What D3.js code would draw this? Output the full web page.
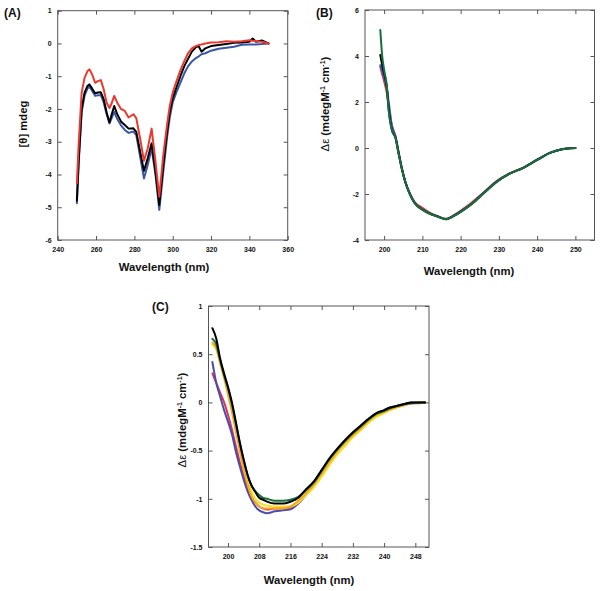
<!DOCTYPE html>
<html><head><meta charset="utf-8">
<script src="https://cdn.jsdelivr.net/npm/d3@7"></script>
<style>
body{margin:0;background:#fff;}
svg text{font-family:"Liberation Sans",Arial,sans-serif;font-weight:bold;fill:#111;}
</style></head>
<body><svg id="c" width="600" height="591"></svg>
<script>
// ---------- Panel A data ----------
const wlA = [250,251,252.5,254,255.5,256.5,258,259.5,261,262.5,
  264,265.5,267,268,269.5,271,273,275,277,279.5,
  281,283,285,287,289,291,293,295,297,298.5,
  300,302,304,306,308,310,312,313.5,315,317,
  320,324,328,332,336,340,341.7,343.5,346.5,350];
const redA = [-4.27,-3.0,-1.5,-1.05,-0.85,-0.79,-0.95,-1.2,-1.15,-1.12,
  -1.4,-1.8,-1.97,-1.85,-1.6,-1.8,-2.0,-2.06,-2.26,-2.16,
  -2.28,-2.9,-3.58,-3.2,-2.6,-3.6,-4.68,-3.46,-2.5,-1.9,
  -1.5,-1.15,-0.82,-0.55,-0.3,-0.15,-0.08,-0.05,-0.03,0.0,
  0.03,0.04,0.07,0.05,0.07,0.1,0.08,0.07,0.05,0.0];
const blackA = [-4.8,-3.5,-2.0,-1.5,-1.3,-1.25,-1.38,-1.52,-1.5,-1.49,
  -1.7,-2.1,-2.41,-2.2,-1.91,-2.15,-2.38,-2.49,-2.6,-2.59,
  -2.7,-3.3,-3.89,-3.5,-3.05,-3.9,-4.93,-3.76,-2.72,-2.08,
  -1.68,-1.33,-1.0,-0.7,-0.47,-0.25,-0.12,-0.08,-0.25,-0.15,
  -0.08,-0.05,-0.02,0.02,0.03,0.05,0.15,0.05,0.09,0.0];
const blueA = [-4.88,-3.6,-2.1,-1.6,-1.38,-1.32,-1.45,-1.6,-1.58,-1.58,
  -1.8,-2.15,-2.44,-2.3,-2.09,-2.3,-2.5,-2.64,-2.73,-2.69,
  -2.8,-3.45,-4.12,-3.7,-3.2,-4.0,-5.08,-3.97,-2.9,-2.25,
  -1.8,-1.48,-1.2,-0.92,-0.7,-0.55,-0.45,-0.4,-0.33,-0.3,
  -0.22,-0.16,-0.13,-0.1,-0.04,-0.03,-0.03,-0.03,-0.02,0.0];
const xTicksA = [240,260,280,300,320,340,360];
const yTicksA = [1,0,-1,-2,-3,-4,-5,-6];

// ---------- Panel B data ----------
const wlB = [199,199.5,200,200.7,201.2,202,203,203.7,204.6,205.5,206.8,208,210,212,214,216.2,218,220.5,223,226,229.5,232.5,236.5,240,243.5,246.5,248.5,250];
const greenB = [5.13,4.0,3.4,2.7,1.6,0.8,0.42,-0.16,-0.88,-1.46,-2.04,-2.4,-2.68,-2.86,-2.98,-3.1,-2.97,-2.72,-2.42,-1.97,-1.46,-1.15,-0.85,-0.52,-0.2,-0.05,-0.01,0];
const blackB = [4.04,3.6,3.25,2.65,1.7,0.8,0.42,-0.16,-0.88,-1.46,-2.04,-2.4,-2.68,-2.86,-2.98,-3.1,-2.97,-2.72,-2.42,-1.97,-1.46,-1.15,-0.85,-0.52,-0.2,-0.05,-0.01,0];
const redB = [3.53,3.2,2.9,2.4,1.8,1.0,0.5,-0.1,-0.85,-1.45,-2.0,-2.35,-2.6,-2.82,-2.96,-3.08,-2.94,-2.67,-2.36,-1.93,-1.43,-1.13,-0.84,-0.5,-0.2,-0.05,-0.01,0];
const blueB = [3.6,3.35,3.05,2.6,2.0,1.0,0.48,-0.12,-0.86,-1.45,-2.02,-2.38,-2.66,-2.85,-2.97,-3.09,-2.96,-2.7,-2.4,-1.95,-1.45,-1.14,-0.85,-0.51,-0.2,-0.05,-0.01,0];
const xTicksB = [200,210,220,230,240,250];
const yTicksB = [6,4,2,0,-2,-4];

// ---------- Panel C data ----------
const wlC = [196,197,198,199,200,201,202,203,204,205,206,207,208,209,210,212,214,216,218,220,222,224,226,228,230,232,234,236,238,240,241,243,245,247,249,250.5];
const blackC = [0.77,0.66,0.45,0.3,0.16,0.0,-0.2,-0.41,-0.59,-0.75,-0.86,-0.93,-0.99,-1.01,-1.03,-1.05,-1.05,-1.03,-0.99,-0.9,-0.82,-0.7,-0.58,-0.48,-0.39,-0.31,-0.24,-0.17,-0.11,-0.08,-0.06,-0.04,-0.02,0.0,0.0,0.0];
const greenC = [0.66,0.6,0.44,0.28,0.15,-0.02,-0.22,-0.42,-0.6,-0.75,-0.86,-0.92,-0.96,-0.99,-1.0,-1.02,-1.02,-1.01,-0.98,-0.91,-0.83,-0.71,-0.59,-0.49,-0.4,-0.32,-0.25,-0.18,-0.12,-0.09,-0.07,-0.04,-0.02,-0.01,0.0,0.0];
const yellowC = [0.6,0.55,0.42,0.28,0.12,-0.05,-0.26,-0.46,-0.65,-0.8,-0.92,-1.0,-1.04,-1.06,-1.07,-1.08,-1.08,-1.08,-1.04,-0.96,-0.88,-0.77,-0.65,-0.54,-0.45,-0.36,-0.29,-0.21,-0.15,-0.11,-0.09,-0.06,-0.03,-0.01,0.0,0.0];
const orangeC = [0.62,0.56,0.4,0.25,0.08,-0.1,-0.3,-0.5,-0.7,-0.85,-0.97,-1.04,-1.08,-1.1,-1.1,-1.1,-1.1,-1.08,-1.02,-0.94,-0.85,-0.74,-0.62,-0.51,-0.42,-0.34,-0.27,-0.19,-0.13,-0.1,-0.08,-0.05,-0.03,-0.01,0.0,0.0];
const redC = [0.3,0.2,0.1,0.0,-0.13,-0.28,-0.45,-0.62,-0.76,-0.88,-0.98,-1.04,-1.08,-1.1,-1.11,-1.1,-1.1,-1.09,-1.04,-0.95,-0.85,-0.73,-0.61,-0.5,-0.41,-0.33,-0.26,-0.19,-0.13,-0.1,-0.07,-0.05,-0.03,-0.01,-0.01,0.0];
const blueC = [0.42,0.2,0.06,-0.08,-0.2,-0.33,-0.51,-0.66,-0.8,-0.92,-1.01,-1.08,-1.12,-1.14,-1.15,-1.13,-1.12,-1.11,-1.05,-0.96,-0.85,-0.72,-0.6,-0.49,-0.4,-0.32,-0.25,-0.18,-0.12,-0.1,-0.06,-0.04,-0.02,0.0,0.0,0.0];
const xTicksC = [200,208,216,224,232,240,248];
const yTicksC = [1,0.5,0,-0.5,-1,-1.5];

const svg = d3.select("#c");

function panel(o){
  const g = svg.append("g");
  const x = d3.scaleLinear().domain(o.xd).range([o.l,o.r]);
  const y = d3.scaleLinear().domain(o.yd).range([o.b,o.t]);
  const strip = sel => { sel.select(".domain").remove(); sel.selectAll("line").attr("stroke","#555"); };
  const fmt = o.fmt || (d=>String(d));
  g.append("g").attr("transform",`translate(0,${o.b})`)
    .call(d3.axisBottom(x).tickValues(o.xt).tickSizeInner(-4).tickSizeOuter(0).tickPadding(7).tickFormat(fmt))
    .call(strip).selectAll("text").attr("font-size",7).attr("font-family","Liberation Sans, Arial").attr("font-weight","bold").attr("fill","#111");
  g.append("g").attr("transform",`translate(0,${o.t})`)
    .call(d3.axisTop(x).tickValues(o.xt).tickSizeInner(-4).tickSizeOuter(0).tickFormat(""))
    .call(strip);
  g.append("g").attr("transform",`translate(${o.l},0)`)
    .call(d3.axisLeft(y).tickValues(o.yt).tickSizeInner(-4).tickSizeOuter(0).tickPadding(6).tickFormat(fmt))
    .call(strip).selectAll("text").attr("font-size",7).attr("font-family","Liberation Sans, Arial").attr("font-weight","bold").attr("fill","#111");
  g.append("g").attr("transform",`translate(${o.r},0)`)
    .call(d3.axisRight(y).tickValues(o.yt).tickSizeInner(-4).tickSizeOuter(0).tickFormat(""))
    .call(strip);
  g.append("rect").attr("x",o.l).attr("y",o.t).attr("width",o.r-o.l).attr("height",o.b-o.t)
    .attr("fill","none").attr("stroke","#555").attr("stroke-width",1);
  const line = d3.line().x(d=>x(d[0])).y(d=>y(d[1])).curve(o.curve||d3.curveLinear);
  o.series.forEach(s=>{
    g.append("path").datum(o.wl.map((w,i)=>[w,s.v[i]]))
      .attr("d",line).attr("fill","none").attr("stroke",s.c).attr("stroke-width",s.w||2)
      .attr("stroke-linejoin","round").attr("stroke-linecap","round");
  });
  return {g,x,y};
}

// Panel A
panel({l:57.7,r:287.7,t:10.7,b:240,xd:[240,360],yd:[-6,1],xt:xTicksA,yt:yTicksA,wl:wlA,
  series:[{v:blueA,c:"#3a56a8"},{v:blackA,c:"#000"},{v:redA,c:"#ea3a30"}]});
// Panel B
panel({l:365,r:594.5,t:10,b:240,xd:[195,255],yd:[-4,6],xt:xTicksB,yt:yTicksB,wl:wlB,curve:d3.curveMonotoneX,
  series:[{v:redB,c:"#e8343a"},{v:blueB,c:"#3a56c8"},{v:blackB,c:"#000"},{v:greenB,c:"#17703c"}]});
// Panel C
panel({l:208.5,r:429,t:306,b:547,xd:[195,251.5],yd:[-1.5,1],xt:xTicksC,yt:yTicksC,wl:wlC,curve:d3.curveMonotoneX,
  series:[{v:redC,c:"#e2324e"},{v:blueC,c:"#4a4cb0"},{v:yellowC,c:"#f7e01c"},{v:orangeC,c:"#f6a623"},{v:greenC,c:"#1a6e3c"},{v:blackC,c:"#000"}]});

// Labels
function txt(x,y,s,size,anchor,rot){
  const t = svg.append("text").attr("x",x).attr("y",y).attr("font-size",size).attr("text-anchor",anchor||"start");
  if(rot) t.attr("transform",`rotate(-90,${x},${y})`);
  t.text(s); return t;
}
txt(4,17,"(A)",12);
txt(316,17,"(B)",12);
txt(152,311,"(C)",12);
txt(164,271,"Wavelength (nm)",11.3,"middle");
txt(469,275,"Wavelength (nm)",11.3,"middle");
txt(309,584,"Wavelength (nm)",11.3,"middle");
txt(27,124,"[\u03B8] mdeg",11.3,"middle",true);

function yTitle(x,y){
  const t = svg.append("text").attr("x",x).attr("y",y).attr("font-size",11.3).attr("text-anchor","middle")
    .attr("transform",`rotate(-90,${x},${y})`);
  t.append("tspan").attr("font-weight","normal").text("\u0394\u03B5 ");
  t.append("tspan").text("(mdegM");
  t.append("tspan").attr("font-size",7).attr("dy",-4).text("-1");
  t.append("tspan").attr("dy",4).text(" cm");
  t.append("tspan").attr("font-size",7).attr("dy",-4).text("-1");
  t.append("tspan").attr("dy",4).text(")");
}
yTitle(329,104);
yTitle(186,420);
</script></body></html>
